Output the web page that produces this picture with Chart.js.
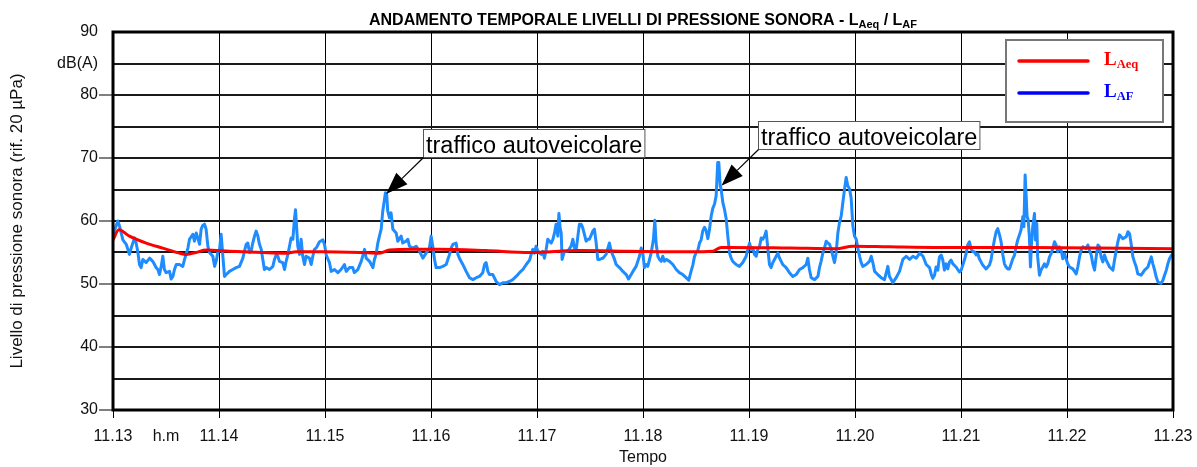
<!DOCTYPE html>
<html lang="it">
<head>
<meta charset="utf-8">
<title>Andamento temporale livelli di pressione sonora</title>
<script src="https://cdn.jsdelivr.net/npm/chart.js@4.4.1/dist/chart.umd.min.js"></script>
<style>
  html, body { margin: 0; padding: 0; background: #fff; }
  canvas { display: block; }
</style>
</head>
<body>
<canvas id="chart" width="1197" height="467"></canvas>
<script>
/* globals Chart:false */

(() => {
  'use strict'

  // Tempo in secondi a partire dalle 11.13
  const timeLabels = ['11.13', '11.14', '11.15', '11.16', '11.17', '11.18', '11.19', '11.20', '11.21', '11.22', '11.23']

  // LAeq (media progressiva)
  const laeqTime = [0, 3.3, 9.3, 18.8, 28.2, 37.6, 41.4, 47, 52.7, 66, 84.6, 98, 103.7, 118.6, 140, 150.8, 156.5,
    169.7, 184.8, 211, 236, 264, 292, 326, 339.5, 344.2, 349, 383, 409.3, 418.8, 439.5, 468, 520, 600]
  const laeqLevel = [57.0, 58.6, 57.6, 56.5, 55.7, 54.9, 54.7, 55.0, 55.4, 55.2, 55.0, 54.9, 55.1, 55.1, 55.0, 54.9, 55.4,
    55.5, 55.5, 55.3, 55.0, 55.3, 55.2, 55.1, 55.2, 55.8, 55.8, 55.7, 55.6, 56.0, 55.9, 55.8, 55.8, 55.6]

  // LAF (livello istantaneo, fast)
  const lafTime = [
    0, 2.7, 3.7, 5.6, 7.5, 9.3, 10.3, 12.2, 13.1, 14.1,
    15.0, 15.9, 16.9, 18.8, 20.7, 22.5, 23.5, 24.4, 25.4, 26.3,
    27.3, 28.2, 29.1, 30.1, 32.0, 32.9, 33.9, 34.8, 35.8, 37.6,
    39.5, 40.5, 42.4, 43.3, 45.2, 46.1, 47.1, 48.0, 49.0, 49.9,
    50.8, 51.8, 52.7, 53.7, 54.6, 56.5, 57.5, 58.4, 59.3, 60.3,
    61.2, 62.2, 63.1, 64.1, 65.9, 67.8, 69.7, 71.6, 73.5, 74.4,
    75.4, 76.3, 77.3, 78.2, 79.1, 80.1, 81.0, 82.0, 82.9, 83.9,
    84.8, 85.7, 86.7, 88.6, 90.5, 91.4, 92.4, 93.3, 94.2, 96.1,
    97.1, 98.0, 99.0, 99.9, 100.8, 101.8, 102.7, 103.3, 104.0, 104.6,
    105.6, 106.5, 107.4, 108.4, 109.3, 111.2, 112.2, 113.1, 114.0, 115.0,
    116.9, 118.8, 119.7, 120.7, 122.5, 123.5, 125.4, 127.3, 129.1, 131.0,
    132.0, 133.9, 135.7, 136.6, 138.6, 140.5, 142.4, 143.3, 145.2, 147.1,
    148.0, 148.9, 149.9, 150.8, 151.8, 152.7, 153.7, 154.2, 154.9, 155.5,
    156.5, 157.4, 158.4, 160.3, 161.2, 163.1, 164.0, 165.9, 166.9, 167.8,
    169.7, 171.6, 173.5, 175.4, 177.2, 179.1, 180.1, 181.0, 182.0, 182.9,
    184.8, 186.7, 188.6, 190.5, 191.4, 192.4, 194.2, 195.2, 196.1, 198.0,
    199.9, 201.8, 203.7, 205.6, 207.4, 209.3, 210.3, 211.2, 212.2, 213.1,
    215.0, 216.9, 218.8, 220.7, 222.6, 224.4, 226.3, 228.2, 230.1, 232.0,
    233.9, 235.8, 236.7, 237.6, 238.6, 239.5, 240.5, 241.4, 242.4, 243.3,
    244.2, 245.2, 246.1, 247.1, 248.0, 249.0, 249.9, 250.8, 251.8, 252.4,
    253.1, 253.7, 254.2, 255.5, 257.4, 259.3, 260.3, 261.2, 262.2, 264.0,
    265.0, 265.9, 267.8, 268.8, 269.7, 271.6, 272.5, 273.5, 274.4, 275.4,
    277.3, 279.1, 281.0, 282.0, 283.9, 284.8, 286.7, 288.6, 290.5, 291.8,
    293.3, 294.3, 296.1, 298.0, 299.0, 299.9, 300.8, 301.8, 302.7, 303.7,
    304.6, 305.9, 306.7, 307.4, 308.4, 309.3, 310.3, 311.2, 312.1, 313.1,
    315.0, 316.9, 318.8, 320.6, 322.5, 324.4, 325.9, 327.2, 328.2, 329.1,
    330.1, 331.0, 332.0, 332.9, 333.8, 334.8, 335.7, 336.7, 337.6, 338.6,
    339.5, 340.5, 341.4, 342.3, 342.9, 343.7, 344.2, 345.2, 346.1, 347.1,
    348.0, 349.0, 349.9, 350.8, 352.7, 354.6, 356.5, 358.4, 359.3, 360.3,
    361.2, 362.2, 363.1, 364.1, 365.0, 366.0, 366.9, 367.8, 368.8, 369.7,
    370.7, 371.6, 372.5, 373.5, 375.4, 376.3, 377.3, 379.1, 381.0, 382.9,
    384.8, 386.7, 388.6, 390.5, 392.4, 393.3, 394.2, 395.2, 397.1, 399.0,
    399.9, 400.8, 401.8, 402.7, 403.7, 404.6, 405.6, 406.5, 407.5, 408.4,
    409.3, 410.3, 411.2, 412.2, 413.1, 414.1, 415.0, 415.9, 416.9, 417.8,
    418.8, 419.7, 420.7, 421.6, 422.6, 423.5, 424.4, 426.3, 428.2, 429.2,
    430.1, 431.1, 432.9, 434.8, 436.7, 438.6, 439.5, 440.5, 441.4, 443.3,
    445.2, 447.1, 449.0, 450.9, 452.8, 454.7, 456.6, 458.5, 460.3, 462.2,
    463.1, 464.0, 465.0, 465.9, 466.9, 467.8, 468.8, 469.7, 470.6, 471.6,
    472.5, 473.5, 474.4, 475.4, 477.2, 479.1, 480.1, 481.0, 481.9, 482.9,
    483.8, 484.8, 485.7, 486.7, 487.6, 488.6, 489.5, 490.4, 492.3, 494.2,
    496.1, 497.0, 498.0, 498.9, 499.9, 500.8, 501.8, 502.7, 503.7, 504.6,
    505.5, 506.5, 507.4, 508.4, 509.3, 510.3, 511.2, 512.1, 513.1, 514.0,
    515.0, 515.6, 516.3, 516.9, 517.4, 518.0, 518.7, 519.3, 519.9, 520.6,
    521.6, 522.1, 522.9, 523.4, 524.4, 525.3, 526.3, 527.2, 528.2, 529.1,
    530.1, 531.0, 531.9, 532.9, 533.8, 534.8, 535.7, 536.7, 537.6, 538.6,
    539.5, 540.4, 541.4, 543.3, 545.2, 546.1, 547.1, 548.0, 549.0, 550.8,
    551.8, 552.7, 553.7, 554.6, 555.6, 556.5, 557.5, 558.4, 559.3, 560.3,
    561.2, 562.2, 564.1, 566.0, 566.9, 567.9, 568.8, 569.7, 571.6, 573.5,
    574.5, 575.4, 576.3, 577.3, 578.2, 579.2, 580.1, 582.0, 583.9, 585.8,
    586.7, 587.7, 588.6, 589.6, 590.5, 591.5, 593.3, 594.3, 595.2, 596.2,
    597.1, 598.0, 599.2, 600
  ]
  const lafLevel = [
    57.8, 60.0, 59.2, 57.0, 56.3, 54.7, 55.7, 57.3, 56.5, 55.0,
    53.1, 52.6, 53.9, 53.4, 54.1, 53.6, 53.1, 52.6, 52.3, 51.5,
    52.8, 54.4, 52.3, 51.8, 52.0, 50.8, 51.2, 52.3, 53.1, 53.1,
    52.8, 53.9, 55.7, 57.1, 57.9, 56.8, 58.1, 57.3, 56.3, 58.7,
    59.3, 59.5, 58.7, 56.0, 55.0, 54.4, 52.8, 53.6, 55.0, 55.5,
    57.9, 54.4, 51.2, 51.5, 52.0, 52.3, 52.6, 52.8, 54.1, 55.2,
    56.3, 56.5, 55.0, 55.2, 56.5, 57.6, 58.4, 57.6, 56.3, 55.5,
    53.9, 52.3, 52.6, 52.3, 52.8, 53.9, 54.7, 54.4, 53.6, 53.4,
    52.3, 53.6, 54.7, 56.0, 57.3, 57.1, 60.3, 61.8, 58.7, 56.0,
    54.7, 57.1, 54.4, 53.1, 54.4, 54.1, 53.1, 54.4, 55.5, 55.7,
    56.7, 57.0, 56.3, 54.6, 53.4, 52.0, 52.3, 51.8, 52.3, 53.1,
    52.0, 52.6, 52.6, 51.8, 52.3, 53.6, 55.5, 54.1, 53.6, 52.6,
    53.9, 54.7, 56.5, 57.6, 58.7, 61.6, 63.5, 64.5, 64.3, 61.6,
    60.5, 61.3, 58.7, 58.1, 56.8, 57.6, 56.5, 56.8, 57.1, 56.0,
    55.7, 56.0, 55.2, 54.1, 54.9, 55.7, 57.6, 56.0, 53.9, 52.6,
    52.6, 52.8, 53.1, 54.7, 55.7, 56.3, 56.5, 54.7, 54.1, 53.1,
    52.0, 51.0, 50.7, 51.0, 51.2, 51.8, 53.1, 53.4, 52.0, 51.5,
    51.5, 50.4, 49.9, 50.2, 50.2, 50.4, 50.7, 51.2, 51.8, 52.3,
    53.1, 53.8, 54.7, 55.5, 54.9, 56.0, 55.2, 54.9, 54.7, 55.2,
    54.1, 55.5, 57.1, 56.8, 56.5, 57.1, 58.1, 59.5, 57.6, 61.2,
    58.9, 58.1, 53.9, 55.2, 55.2, 56.0, 57.1, 55.7, 55.5, 59.5,
    59.5, 58.9, 56.8, 57.1, 57.1, 58.4, 58.7, 56.5, 53.9, 53.9,
    54.1, 54.7, 56.5, 55.2, 53.9, 53.1, 52.6, 52.0, 51.5, 50.8,
    51.5, 52.0, 52.8, 54.4, 55.7, 54.9, 52.6, 53.1, 52.8, 53.9,
    54.9, 57.1, 60.1, 56.5, 54.4, 53.9, 53.6, 54.4, 53.6, 53.9,
    53.6, 53.1, 52.3, 51.8, 51.5, 51.0, 50.6, 52.0, 53.0, 54.3,
    55.0, 55.3, 56.5, 57.0, 58.4, 59.0, 58.5, 57.2, 58.6, 60.8,
    62.0, 62.7, 64.0, 69.3, 69.3, 65.6, 65.1, 62.9, 61.9, 60.3,
    57.6, 54.9, 54.1, 53.6, 53.1, 52.8, 53.4, 54.4, 55.5, 56.5,
    55.5, 55.7, 54.7, 54.4, 55.5, 56.0, 57.3, 57.1, 57.6, 58.4,
    55.5, 53.1, 52.6, 53.4, 54.4, 54.9, 54.1, 53.1, 52.6, 51.8,
    51.2, 51.5, 52.3, 52.6, 53.1, 54.1, 52.3, 51.0, 50.7, 51.2,
    52.6, 53.6, 54.9, 55.7, 56.8, 56.5, 56.3, 55.5, 54.4, 53.4,
    54.9, 58.1, 59.7, 60.8, 62.9, 65.1, 66.9, 65.6, 65.1, 63.7,
    59.2, 57.6, 57.1, 55.7, 54.4, 53.4, 52.8, 53.1, 53.6, 54.4,
    53.4, 52.0, 51.5, 51.0, 50.7, 52.8, 51.2, 50.7, 50.2, 51.0,
    52.0, 53.9, 54.4, 53.9, 54.4, 54.1, 54.9, 54.4, 53.1, 52.6,
    51.6, 50.9, 51.4, 52.7, 52.2, 54.3, 54.6, 53.8, 52.2, 53.2,
    52.4, 53.5, 53.8, 53.2, 52.7, 51.9, 52.2, 53.0, 53.8, 54.8,
    56.2, 56.7, 55.6, 55.1, 55.1, 54.6, 54.8, 54.0, 53.0, 52.4,
    53.0, 53.8, 55.6, 57.0, 58.3, 58.8, 57.8, 56.7, 54.6, 53.2,
    52.7, 52.4, 52.4, 53.2, 54.0, 54.6, 55.9, 57.0, 57.8, 58.6,
    60.7, 59.1, 67.3, 63.9, 60.7, 60.2, 57.5, 52.7, 56.4, 59.1,
    61.2, 57.0, 59.6, 54.3, 51.4, 52.2, 52.7, 53.2, 52.7, 53.2,
    54.3, 54.8, 55.6, 56.7, 56.2, 55.1, 55.9, 55.4, 54.0, 54.8,
    54.0, 53.2, 52.7, 52.4, 51.6, 52.7, 54.3, 55.4, 55.9, 55.6,
    56.2, 55.4, 54.6, 53.2, 52.2, 54.3, 56.2, 55.9, 54.3, 53.5,
    54.6, 53.8, 52.7, 52.2, 53.8, 55.4, 56.7, 57.8, 57.2, 57.5,
    58.3, 58.0, 56.4, 54.3, 53.5, 52.7, 51.6, 51.4, 52.2, 52.7,
    53.5, 54.3, 53.2, 52.2, 51.1, 50.3, 50.1, 50.6, 51.4, 52.2,
    53.2, 54.0, 54.6, 54.8
  ]

  // Eventi segnalati sul grafico
  const noteTime = [154.6, 344.4]
  const noteLevel = [64.3, 65.6]
  const noteText = ['traffico autoveicolare', 'traffico autoveicolare']

  const SANS = '"Liberation Sans", Arial, sans-serif'
  const SERIF = '"Liberation Serif", "Times New Roman", serif'
  const NONE = 'rgba(0,0,0,0)'

  // testo con pedici: parts = [[testo, pedice?], ...]
  function drawRich (ctx, parts, x, y, bigFont, smallFont, drop) {
    parts.forEach(([t, sub]) => {
      ctx.font = sub ? smallFont : bigFont
      ctx.fillText(t, x, sub ? y + drop : y)
      x += ctx.measureText(t).width
    })
    return x
  }
  function richWidth (ctx, parts, bigFont, smallFont) {
    let w = 0
    parts.forEach(([t, sub]) => {
      ctx.font = sub ? smallFont : bigFont
      w += ctx.measureText(t).width
    })
    return w
  }

  const framePlugin = {
    id: 'cornice',
    afterDatasetsDraw (chart) {
      const { ctx, chartArea: a } = chart
      ctx.save()
      ctx.strokeStyle = '#000'
      ctx.lineWidth = 3
      ctx.strokeRect(a.left, a.top, a.right - a.left, a.bottom - a.top)
      ctx.restore()
    }
  }

  const titlePlugin = {
    id: 'titolo',
    afterDraw (chart) {
      const { ctx, chartArea: a } = chart
      const parts = [['ANDAMENTO TEMPORALE LIVELLI DI PRESSIONE SONORA - L', false], ['Aeq', true], [' / L', false], ['AF', true]]
      const big = 'bold 16px ' + SANS
      const small = 'bold 11px ' + SANS
      ctx.save()
      ctx.fillStyle = '#000'
      ctx.textBaseline = 'alphabetic'
      const w = richWidth(ctx, parts, big, small)
      drawRich(ctx, parts, (a.left + a.right) / 2 - w / 2, 25, big, small, 3)
      ctx.restore()
    }
  }

  const notePlugin = {
    id: 'note',
    afterDraw (chart) {
      const { ctx, scales: { x, y } } = chart
      ctx.save()
      noteText.forEach((text, i) => {
        const tx = x.getPixelForValue(noteTime[i])
        const ty = y.getPixelForValue(noteLevel[i])
        const bx = Math.round(tx + 37) + 0.5
        const by = Math.round(ty - 37) + 0.5
        ctx.font = '23.5px ' + SANS
        const w = ctx.measureText(text).width + 5
        const h = 28
        ctx.fillStyle = '#fff'
        ctx.fillRect(bx, by - h, w, h)
        ctx.strokeStyle = '#555'
        ctx.lineWidth = 1
        ctx.strokeRect(bx, by - h, w, h)
        ctx.fillStyle = '#000'
        ctx.textBaseline = 'alphabetic'
        ctx.fillText(text, bx + 2.5, by - 5)
        // freccia
        const ang = Math.atan2(ty - by, tx - bx)
        const len = 22
        const half = 8
        const cx = tx - len * Math.cos(ang)
        const cy = ty - len * Math.sin(ang)
        ctx.strokeStyle = '#000'
        ctx.lineWidth = 1.2
        ctx.beginPath()
        ctx.moveTo(bx, by)
        ctx.lineTo(cx, cy)
        ctx.stroke()
        ctx.beginPath()
        ctx.moveTo(tx, ty)
        ctx.lineTo(cx + half * Math.sin(ang), cy - half * Math.cos(ang))
        ctx.lineTo(cx - half * Math.sin(ang), cy + half * Math.cos(ang))
        ctx.closePath()
        ctx.fill()
      })
      ctx.restore()
    }
  }

  const legendPlugin = {
    id: 'legenda',
    afterDraw (chart) {
      const { ctx, chartArea: a } = chart
      const bx = a.right - 167
      const by = a.top + 8
      const items = [
        { color: '#ff0000', parts: [['L', false], ['Aeq', true]], dy: 21 },
        { color: '#0000ff', parts: [['L', false], ['AF', true]], dy: 53 }
      ]
      ctx.save()
      ctx.fillStyle = '#fff'
      ctx.fillRect(bx, by, 157, 82)
      ctx.strokeStyle = '#777'
      ctx.lineWidth = 2
      ctx.strokeRect(bx, by, 157, 82)
      items.forEach(it => {
        ctx.strokeStyle = it.color
        ctx.lineWidth = 3.5
        ctx.lineCap = 'round'
        ctx.beginPath()
        ctx.moveTo(bx + 13, by + it.dy)
        ctx.lineTo(bx + 82, by + it.dy)
        ctx.stroke()
        ctx.fillStyle = it.color
        ctx.textBaseline = 'alphabetic'
        drawRich(ctx, it.parts, bx + 98, by + it.dy + 4, 'bold 19px ' + SERIF, 'bold 12.5px ' + SERIF, 3)
      })
      ctx.restore()
    }
  }

  const ctx = document.getElementById('chart')
  new Chart(ctx, {
    type: 'line',
    data: {
      datasets: [{
        label: 'LAeq',
        data: laeqTime.map((t, i) => ({ x: t, y: laeqLevel[i] })),
        borderColor: '#ff0000',
        borderWidth: 3,
        pointRadius: 0,
        cubicInterpolationMode: 'monotone'
      }, {
        label: 'LAF',
        data: lafTime.map((t, i) => ({ x: t, y: lafLevel[i] })),
        borderColor: '#1e8cff',
        borderWidth: 3,
        borderJoinStyle: 'round',
        pointRadius: 0,
        tension: 0
      }]
    },
    options: {
      responsive: false,
      animation: false,
      layout: { padding: { top: 32, right: 24, left: 0, bottom: 0 } },
      plugins: {
        legend: { display: false },
        tooltip: { enabled: false },
        title: { display: false }
      },
      scales: {
        x: {
          type: 'linear',
          min: 0,
          max: 600,
          afterBuildTicks: s => {
            s.ticks = timeLabels.map((_, i) => ({ value: i * 60 }))
            s.ticks.splice(1, 0, { value: 30 })
          },
          afterFit: s => {
            s.height = 57
            s.paddingLeft = 0
            s.paddingRight = 0
          },
          ticks: {
            autoSkip: false,
            maxRotation: 0,
            padding: 9,
            color: '#111',
            font: { family: SANS, size: 16 },
            callback: v => (v === 30 ? 'h.m' : timeLabels[Math.round(v / 60)])
          },
          grid: {
            color: c => (c.tick && c.tick.value === 30 ? NONE : '#000'),
            tickColor: c => (c.tick && c.tick.value === 30 ? NONE : '#000'),
            lineWidth: 1,
            tickLength: 8
          },
          border: { display: false },
          title: {
            display: true,
            text: 'Tempo',
            color: '#111',
            font: { family: SANS, size: 16 },
            padding: { top: 0, bottom: 0 }
          }
        },
        y: {
          min: 30,
          max: 90,
          afterFit: s => { s.width = 113 },
          ticks: {
            stepSize: 5,
            padding: 1,
            color: '#111',
            font: { family: SANS, size: 16 },
            callback: v => (v % 10 === 0 ? String(v) : (v === 85 ? 'dB(A)' : ''))
          },
          grid: {
            color: '#1a1a1a',
            lineWidth: 2,
            tickLength: 14,
            tickWidth: 1,
            tickColor: c => (c.tick && c.tick.value % 10 === 0 && c.tick.value < 90 ? '#000' : NONE)
          },
          border: { display: false },
          title: {
            display: true,
            text: 'Livello di pressione sonora (rif. 20 µPa)',
            color: '#111',
            font: { family: SANS, size: 17 },
            padding: { top: 7, bottom: 0 }
          }
        }
      }
    },
    plugins: [framePlugin, titlePlugin, notePlugin, legendPlugin]
  })
})()
</script>
</body>
</html>
